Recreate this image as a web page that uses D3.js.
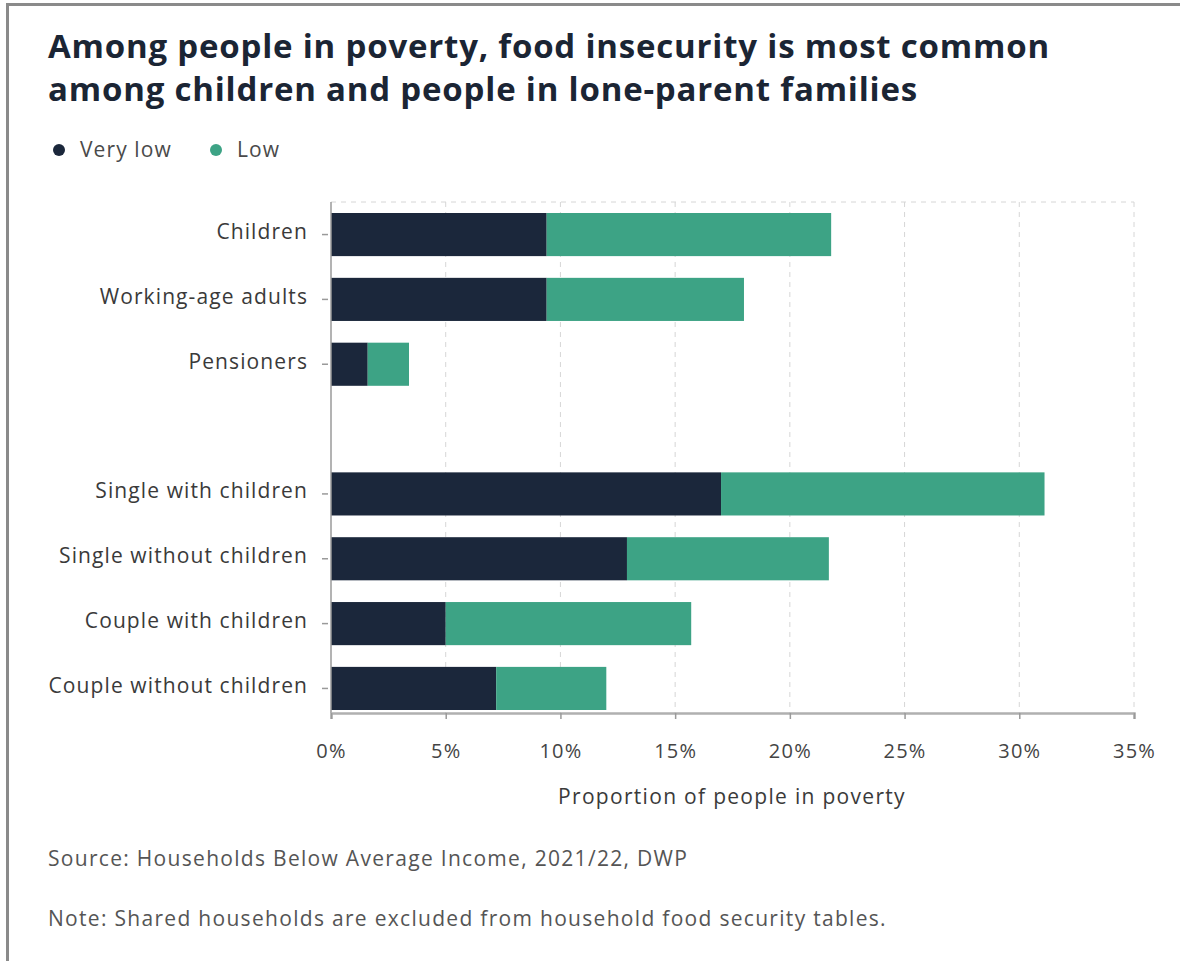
<!DOCTYPE html>
<html>
<head>
<meta charset="utf-8">
<script src="https://cdn.jsdelivr.net/npm/d3@7"></script>
<style>
  body { margin: 0; background: #fff; }
  svg { display: block; font-family: "Open Sans", Lato, sans-serif; }
</style>
</head>
<body>
<svg width="1180" height="961"></svg>
<script>
var categories = ["Children", "Working-age adults", "Pensioners", "", "Single with children",
                  "Single without children", "Couple with children", "Couple without children"];
var veryLow = [9.4, 9.4, 1.6, null, 17.0, 12.9, 5.0, 7.2];
var low = [12.4, 8.6, 1.8, null, 14.1, 8.8, 10.7, 4.8];
var seriesKeys = ["Very low", "Low"];
var xTicks = [0, 5, 10, 15, 20, 25, 30, 35];

var colors = {"Very low": "#1b273b", "Low": "#3da385"};

var svg = d3.select("svg");

// frame
svg.append("line").attr("x1", 6).attr("x2", 1180).attr("y1", 4.5).attr("y2", 4.5)
    .attr("stroke", "#8a8a8a").attr("stroke-width", 3);
svg.append("line").attr("x1", 7.5).attr("x2", 7.5).attr("y1", 3).attr("y2", 961)
    .attr("stroke", "#8a8a8a").attr("stroke-width", 3);

// title
var title = svg.append("g").attr("font-size", 33).attr("font-weight", 700)
    .attr("letter-spacing", 0.8).attr("fill", "#1b2534");
title.append("text").attr("x", 48).attr("y", 58)
    .text("Among people in poverty, food insecurity is most common");
title.append("text").attr("x", 48).attr("y", 101)
    .text("among children and people in lone-parent families");

// legend
var legend = svg.append("g").selectAll("g")
  .data(seriesKeys)
  .enter().append("g")
    .attr("transform", function(d, i) { return "translate(" + [59, 216][i] + ",150)"; });
legend.append("circle").attr("r", 6).attr("fill", function(d) { return colors[d]; });
legend.append("text").attr("x", 21).attr("dy", "0.35em")
    .attr("font-size", 21).attr("letter-spacing", 1.1)
    .attr("fill", "#4a4a4a").text(function(d) { return d; });

var margin = {left: 331, right: 46, top: 202};
var x = d3.scaleLinear().domain([0, 35]).range([331, 1134]);
var y = d3.scaleBand().domain(categories).range([213, 710]).paddingInner(0.335).paddingOuter(0);
var axisY = 713;

// grid
var grid = svg.append("g").attr("stroke", "#d6d6d6").attr("stroke-dasharray", "5,5").attr("stroke-width", 1);
grid.selectAll("line.v").data(xTicks.slice(1)).enter().append("line")
    .attr("x1", function(d) { return x(d); }).attr("x2", function(d) { return x(d); })
    .attr("y1", margin.top).attr("y2", axisY);
grid.append("line").attr("x1", x(0)).attr("x2", x(35)).attr("y1", margin.top).attr("y2", margin.top);

var rows = categories.map(function(c, i) {
  return {cat: c, "Very low": veryLow[i] || 0, "Low": low[i] || 0};
}).filter(function(d, i) { return veryLow[i] != null; });

var stack = d3.stack().keys(seriesKeys)(rows);

svg.append("g").selectAll("g")
  .data(stack)
  .enter().append("g")
    .attr("fill", function(d) { return colors[d.key]; })
  .selectAll("rect")
  .data(function(d) { return d; })
  .enter().append("rect")
    .attr("x", function(d) { return x(d[0]); })
    .attr("width", function(d) { return x(d[1]) - x(d[0]); })
    .attr("y", function(d) { return y(d.data.cat); })
    .attr("height", y.bandwidth());

// y axis
svg.append("line").attr("x1", x(0)).attr("x2", x(0)).attr("y1", margin.top).attr("y2", axisY)
    .attr("stroke", "#9a9a9a").attr("stroke-width", 1.5);
var yl = svg.append("g").selectAll("g").data(rows).enter().append("g")
    .attr("transform", function(d) { return "translate(0," + (y(d.cat) + y.bandwidth() / 2) + ")"; });
yl.append("line").attr("x1", 322).attr("x2", 328).attr("stroke", "#9a9a9a").attr("stroke-width", 1.5);
yl.append("text").attr("x", 308).attr("y", -3).attr("dy", "0.35em").attr("text-anchor", "end")
    .attr("font-size", 21).attr("letter-spacing", 1.1)
    .attr("fill", "#3a3a3a").text(function(d) { return d.cat; });

// x axis
var xAxis = svg.append("g").attr("transform", "translate(0," + axisY + ")")
    .call(d3.axisBottom(x).tickValues(xTicks).tickSize(6).tickPadding(25)
      .tickFormat(function(d) { return d + "%"; }));
xAxis.select(".domain").attr("stroke", "#b0b0b0").attr("stroke-width", 2.5);
xAxis.selectAll(".tick line").attr("stroke", "#9a9a9a").attr("stroke-width", 1.5);
xAxis.selectAll(".tick text").attr("font-size", 20).attr("letter-spacing", 1.2).attr("fill", "#444")
    .attr("font-family", "'Open Sans', Lato, sans-serif");

svg.append("text").attr("x", 732).attr("y", 804).attr("text-anchor", "middle")
    .attr("font-size", 21).attr("letter-spacing", 1.3)
    .attr("fill", "#3a3a3a").text("Proportion of people in poverty");

// footnotes
var notes = svg.append("g").attr("font-size", 21).attr("letter-spacing", 1.3).attr("fill", "#555");
notes.append("text").attr("x", 48).attr("y", 866)
    .text("Source: Households Below Average Income, 2021/22, DWP");
notes.append("text").attr("x", 48).attr("y", 926)
    .text("Note: Shared households are excluded from household food security tables.");
</script>
</body>
</html>
